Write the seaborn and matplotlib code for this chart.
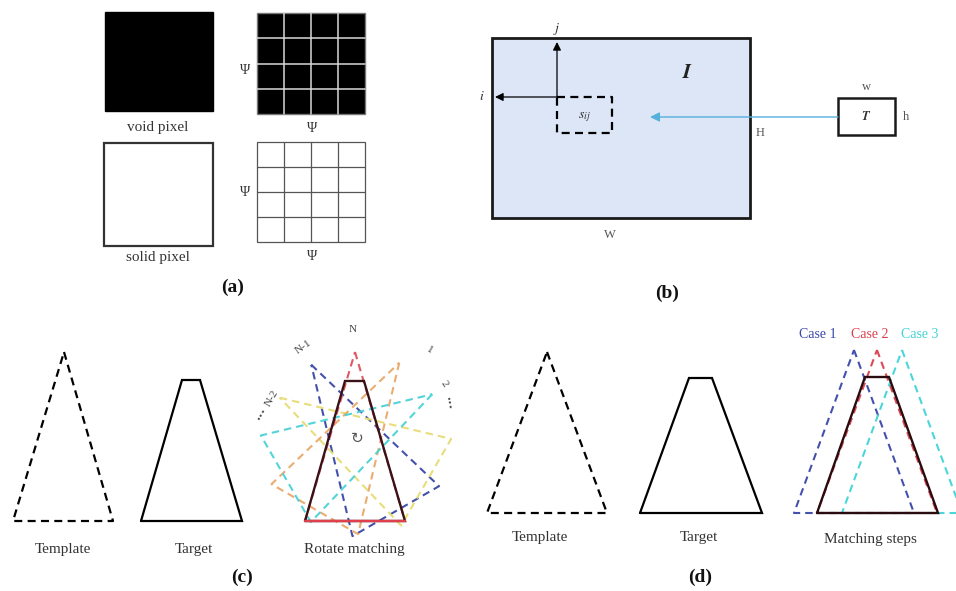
import numpy as np
import matplotlib
matplotlib.use("Agg")
import matplotlib.pyplot as plt
from matplotlib.patches import Rectangle
import seaborn as sns

sns.set_theme(style="white")
plt.rcParams["font.family"] = ["Liberation Serif", "DejaVu Serif"]
plt.rcParams["mathtext.fontset"] = "stix"

# ---- geometry (pixel space, y grows downwards) ----
# (a) pixel tiles: (x0, y0, x1, y1)
void_tile = (105, 12, 213, 111)
void_grid = (257, 13, 365, 114)
solid_tile = (104, 143, 213, 246)
solid_grid = (257, 142, 365, 242)
grid_cells = 4

# (b) image, sub-window and template
image_box = (492, 38, 750, 218)
origin_ij = (557, 97)
window_box = (557, 97, 612, 133)
template_box = (838, 98, 895, 135)

# (c) shapes
c_template_x = [64, 113, 13, 64]
c_template_y = [352, 521, 521, 352]
c_target_x = [141, 182, 200, 242, 141]
c_target_y = [521, 380, 380, 521, 521]
rot_center = (357, 440)
rot_tri_dx = [-2, 48, -52, -2]
rot_tri_dy = [-88, 81, 81, -88]
rot_target_x = [305, 345, 364, 405, 305]
rot_target_y = [521, 381, 381, 521, 521]
rot_angles = [30, 60, -30, -60, 0]          # degrees, positive = anticlockwise
rot_colors = ["#3a48a8", "#e6dc74", "#eaa86a", "#4ad2d6", "#e0505c"]
rot_labels = ["N-1", "N-2", "1", "2", "N"]
rot_label_xy = [(303, 347), (272, 398), (430, 350), (444, 384), (353, 330)]
rot_label_rot = [35, 60, -30, -55, 0]

# (d) shapes
d_template_x = [547, 607, 487, 547]
d_template_y = [352, 513, 513, 352]
d_target_x = [640, 689, 712, 762, 640]
d_target_y = [513, 378, 378, 513, 513]
case_names = ["Case 1", "Case 2", "Case 3"]
case_apex_x = [854, 877, 902]
case_colors = ["#3a48a8", "#d8404c", "#40d4d8"]
case_half_base = 60
case_top, case_base = 350, 513
steps_target_x = [817, 865, 889, 938, 817]
steps_target_y = [513, 377, 377, 513, 513]

fig = plt.figure(figsize=(9.56, 5.91), dpi=100)
ax = fig.add_axes([0, 0, 1, 1])
ax.set_xlim(0, 956)
ax.set_ylim(591, 0)
ax.axis("off")


def outline(xs, ys, color="black", lw=1.6, dashed=False, alpha=1.0, z=3):
    sns.lineplot(x=list(xs), y=list(ys), sort=False, estimator=None, ax=ax,
                 color=color, lw=lw, alpha=alpha, zorder=z)
    line = ax.lines[-1]
    line.set_solid_joinstyle("miter")
    if dashed:
        line.set_dashes((3.6, 2.4))
        line.set_dash_capstyle("butt")
    return line


def label(x, y, s, size=11, **kw):
    kw.setdefault("color", "#333333")
    ax.text(x, y, s, ha="center", va="center", fontsize=size, **kw)


# ---- panel (a) ----
def tile(box, face, edge, lw):
    x0, y0, x1, y1 = box
    ax.add_patch(Rectangle((x0, y0), x1 - x0, y1 - y0, facecolor=face,
                           edgecolor=edge, lw=lw, zorder=2))


def grid(box, color, lw):
    x0, y0, x1, y1 = box
    for k in range(1, grid_cells):
        gx = x0 + (x1 - x0) * k / grid_cells
        gy = y0 + (y1 - y0) * k / grid_cells
        ax.plot([gx, gx], [y0, y1], color=color, lw=lw, zorder=3)
        ax.plot([x0, x1], [gy, gy], color=color, lw=lw, zorder=3)


tile(void_tile, "black", "black", 1.0)
tile(void_grid, "black", "#777777", 1.0)
grid(void_grid, "#d8d8d8", 1.1)
tile(solid_tile, "white", "#333333", 1.6)
tile(solid_grid, "white", "#555555", 0.9)
grid(solid_grid, "#555555", 0.9)

label(158, 128, "void pixel")
label(158, 258, "solid pixel")
for (px, py) in [(245, 70), (312, 128), (245, 193), (312, 257)]:
    label(px, py, "Ψ", size=10)
label(233, 287, "(a)", size=14, weight="bold", color="#111111")

# ---- panel (b) ----
x0, y0, x1, y1 = image_box
ax.add_patch(Rectangle((x0, y0), x1 - x0, y1 - y0, facecolor="#dce6f6",
                       edgecolor="#1a1a1a", lw=2.0, zorder=1))
ox, oy = origin_ij
ax.annotate("", xy=(ox, 42), xytext=(ox, oy),
            arrowprops=dict(arrowstyle="-|>", color="black", lw=0.9,
                            mutation_scale=12, shrinkA=0, shrinkB=0), zorder=4)
ax.annotate("", xy=(495, oy), xytext=(ox, oy),
            arrowprops=dict(arrowstyle="-|>", color="black", lw=0.9,
                            mutation_scale=12, shrinkA=0, shrinkB=0), zorder=4)
label(557, 29, "$j$", size=10)
label(482, 97, "$i$", size=10)
wx0, wy0, wx1, wy1 = window_box
outline([wx0, wx1, wx1, wx0, wx0], [wy0, wy0, wy1, wy1, wy0], lw=1.6, dashed=True)
label(584, 117, "$s_{ij}$", size=10)
label(688, 74, "$\\boldsymbol{I}$", size=15, color="#222222")
tx0, ty0, tx1, ty1 = template_box
ax.add_patch(Rectangle((tx0, ty0), tx1 - tx0, ty1 - ty0, facecolor="white",
                       edgecolor="#1a1a1a", lw=1.8, zorder=3))
ax.annotate("", xy=(650, 117), xytext=(tx0, 117),
            arrowprops=dict(arrowstyle="-|>", color="#55b0dc", lw=1.0,
                            mutation_scale=14, shrinkA=0, shrinkB=0), zorder=4)
label(866, 117, "$\\boldsymbol{T}$", size=9)
label(866, 87, "w", size=9, color="#555555")
label(906, 117, "h", size=9, color="#555555")
label(760, 133, "H", size=9, color="#555555")
label(610, 235, "W", size=9, color="#555555")
label(667, 293, "(b)", size=14, weight="bold", color="#111111")

# ---- panel (c) ----
outline(c_template_x, c_template_y, dashed=True)
outline(c_target_x, c_target_y)
label(63, 550, "Template")
label(194, 550, "Target")

cx, cy = rot_center
dx = np.array(rot_tri_dx, dtype=float)
dy = np.array(rot_tri_dy, dtype=float)
for ang, col in zip(rot_angles, rot_colors):
    a = np.deg2rad(ang)
    rx = dx * np.cos(a) + dy * np.sin(a)
    ry = -dx * np.sin(a) + dy * np.cos(a)
    outline(cx + rx, cy + ry, color=col, lw=1.5, dashed=True,
            alpha=0.95, z=3)
outline(rot_target_x, rot_target_y, color="#3a1218", lw=1.7, z=4)
ax.plot(rot_target_x[3:5], rot_target_y[3:5], color="#e0404c", lw=1.7, zorder=5)
for (lx, ly), s, r in zip(rot_label_xy, rot_labels, rot_label_rot):
    label(lx, ly, s, size=8, rotation=r, color="#444444")
label(263, 414, "···", size=10, rotation=60, color="#444444", weight="bold")
label(447, 404, "···", size=10, rotation=-80, color="#444444", weight="bold")
ax.text(357, 438, "↻", ha="center", va="center", fontsize=11,
        color="#555555", family="DejaVu Sans", zorder=6)
label(354, 550, "Rotate matching")
label(242, 577, "(c)", size=14, weight="bold", color="#111111")

# ---- panel (d) ----
outline(d_template_x, d_template_y, dashed=True)
outline(d_target_x, d_target_y)
label(540, 538, "Template")
label(699, 538, "Target")

for name, apex, col in zip(case_names, case_apex_x, case_colors):
    outline([apex, apex + case_half_base, apex - case_half_base, apex],
            [case_top, case_base, case_base, case_top],
            color=col, lw=1.5, dashed=True, alpha=0.95)
outline(steps_target_x, steps_target_y, color="#2a0c10", lw=1.7, z=4)
for name, apex, col in zip(case_names, [818, 870, 920], case_colors):
    label(apex, 334, name, size=10, color=col)
label(870, 540, "Matching steps")
label(700, 577, "(d)", size=14, weight="bold", color="#111111")

fig.savefig("out.png", dpi=100)
